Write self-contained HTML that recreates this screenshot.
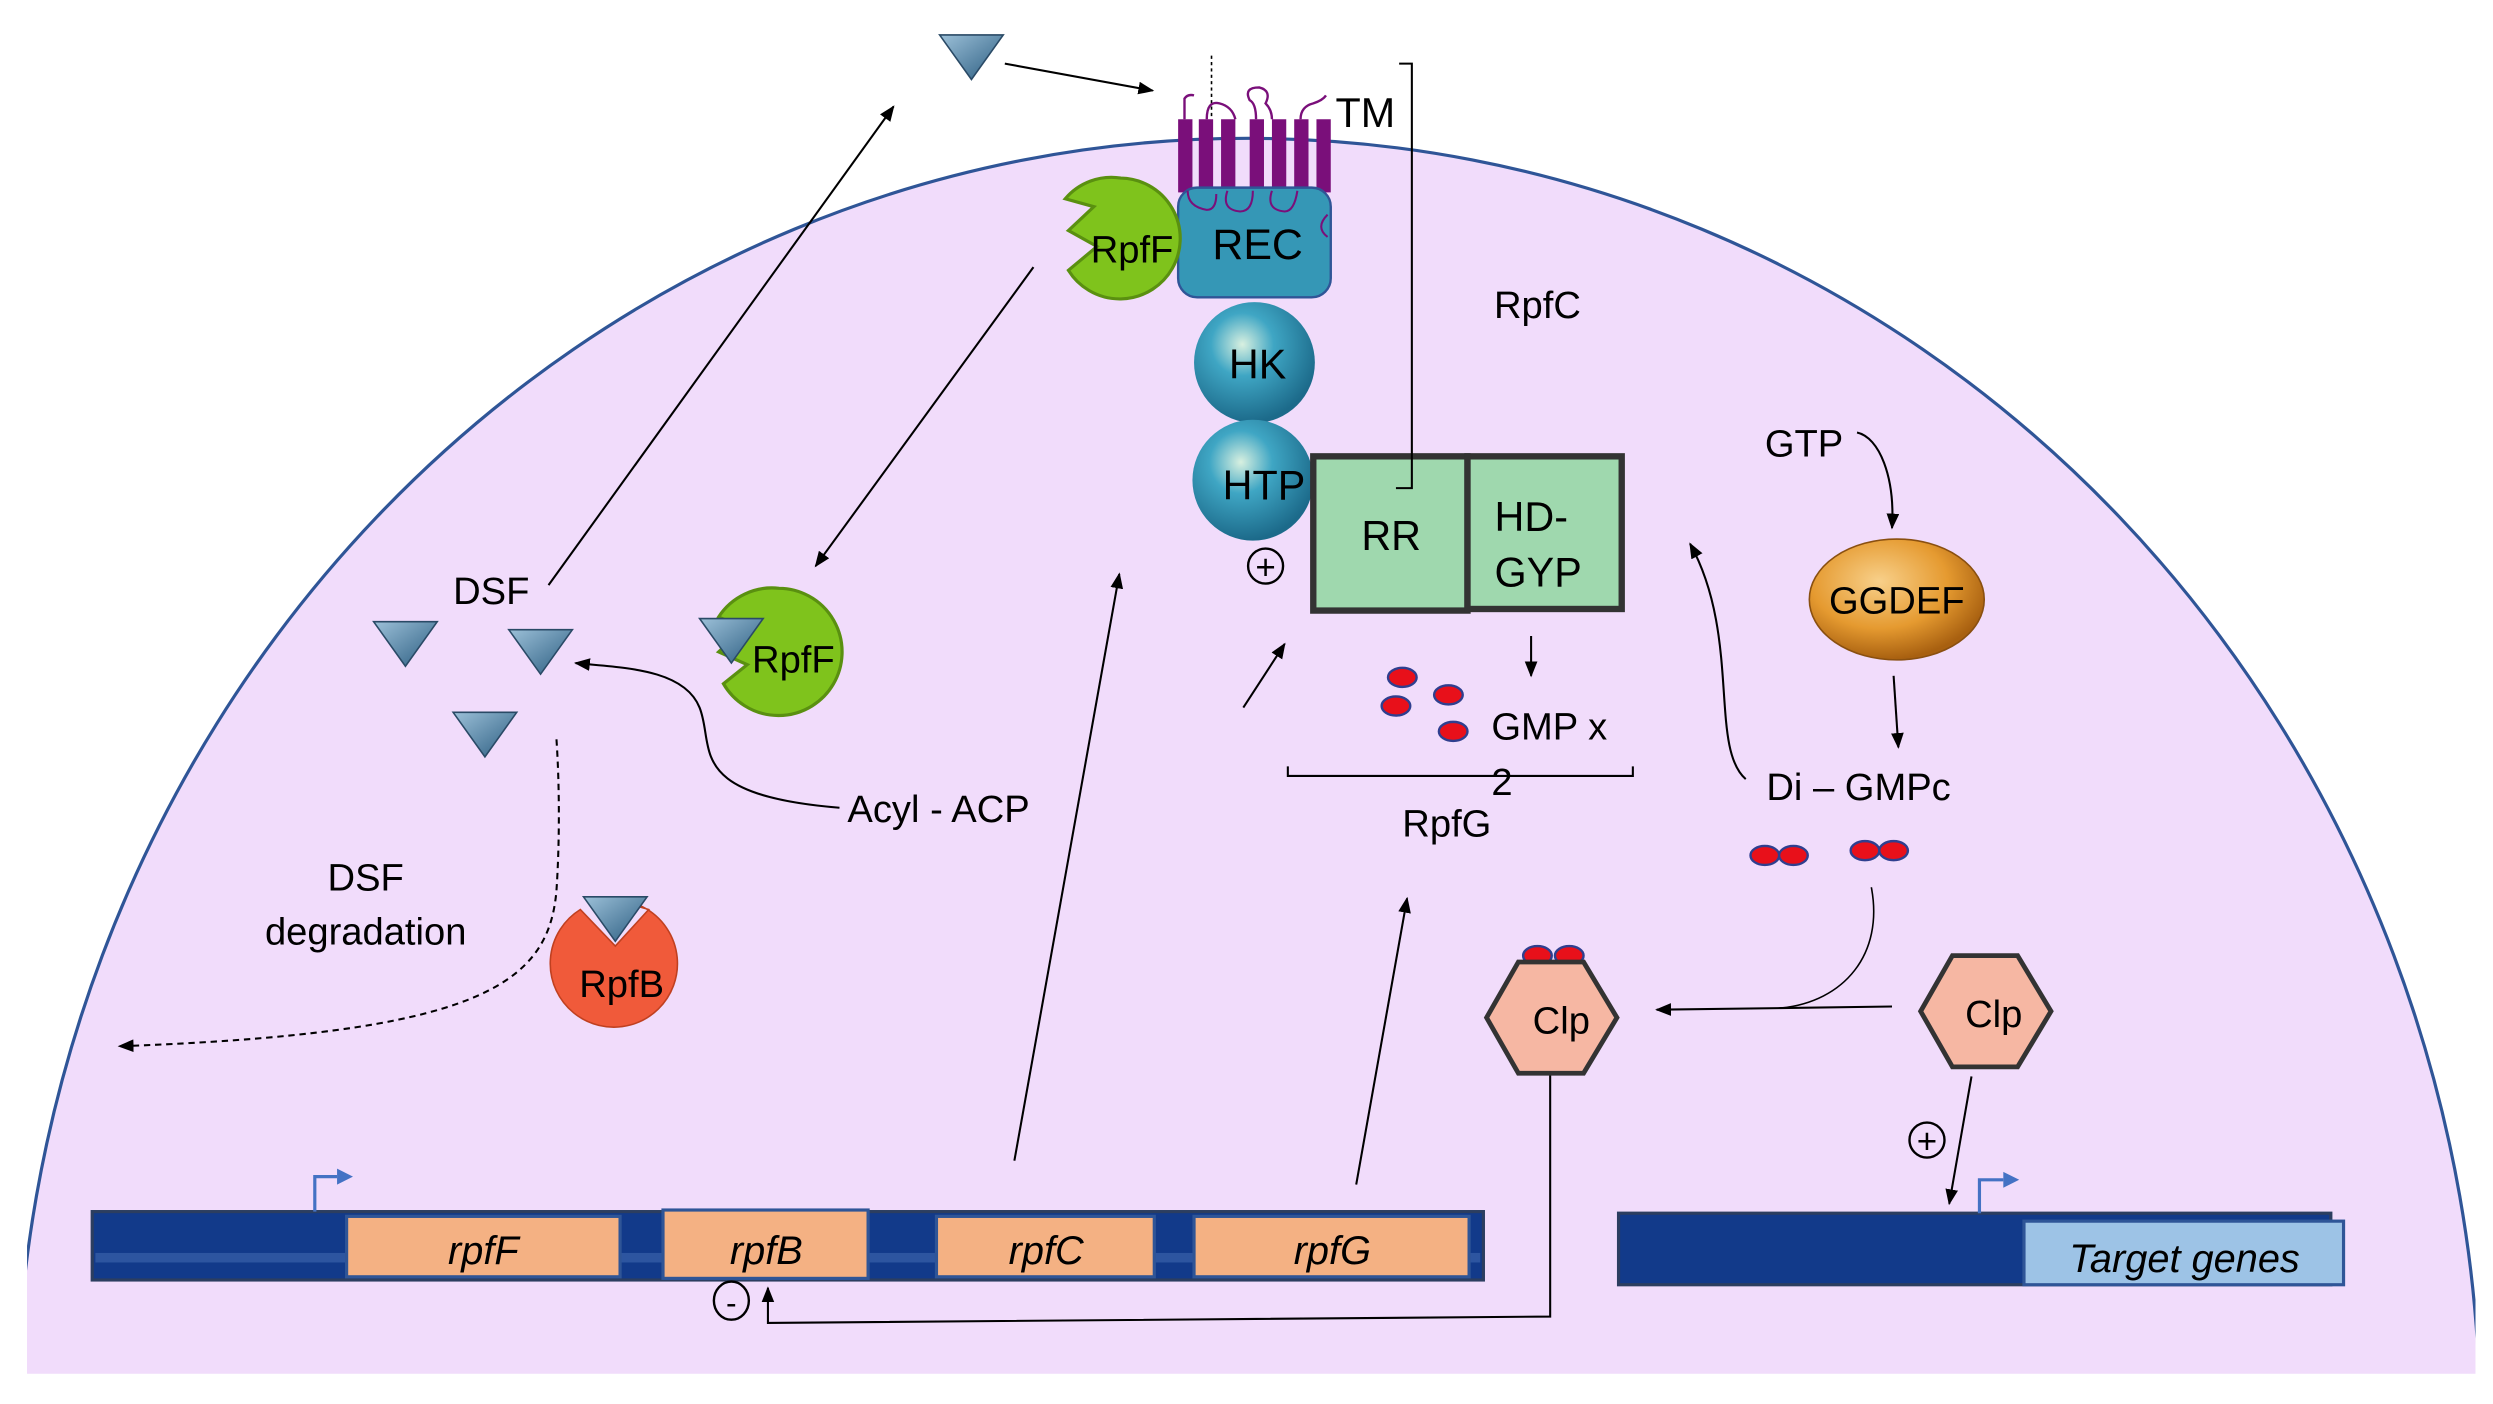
<!DOCTYPE html>
<html><head><meta charset="utf-8"><style>
html,body{margin:0;padding:0;background:#fff;width:2493px;height:1404px;overflow:hidden}
svg{display:block}
text{font-family:"Liberation Sans",Arial,sans-serif;fill:#000}
</style></head><body>
<svg width="2493" height="1404" viewBox="0 0 1568 883" preserveAspectRatio="none" xmlns="http://www.w3.org/2000/svg">
<defs>
<clipPath id="cc"><rect x="17" y="0" width="1540" height="864"/></clipPath>
<radialGradient id="ball" cx="40%" cy="35%" r="65%"><stop offset="0" stop-color="#d8f0e0"/><stop offset="0.4" stop-color="#3fa6c4"/><stop offset="1" stop-color="#1c6a8a"/></radialGradient>
<radialGradient id="gg" cx="40%" cy="35%" r="65%"><stop offset="0" stop-color="#f8d08a"/><stop offset="0.6" stop-color="#e59a30"/><stop offset="1" stop-color="#a86010"/></radialGradient>
<linearGradient id="tri" x1="0" y1="0" x2="1" y2="1"><stop offset="0" stop-color="#9cc0d8"/><stop offset="1" stop-color="#2a5c80"/></linearGradient>
<marker id="ar" markerWidth="10" markerHeight="8" refX="9" refY="4" orient="auto" markerUnits="userSpaceOnUse"><path d="M0,0 L10,4 L0,8 z" fill="#000"/></marker>
<g id="dsf"><path d="M-20,-14 L20,-14 L0,14 z" fill="url(#tri)" stroke="#2a4a66" stroke-width="1"/></g>
</defs>
<g clip-path="url(#cc)">
<ellipse cx="785" cy="900" rx="775" ry="813" fill="#f1dcfb" stroke="#2f5597" stroke-width="2"/>
</g>
<rect x="58" y="762" width="875" height="43" fill="#123a8a" stroke="#2c3e60" stroke-width="2"/>
<rect x="60" y="788" width="871" height="6" fill="#2d55a0"/>
<g stroke="#2f5597" stroke-width="2" fill="#f4b183">
<rect x="218" y="765" width="172" height="38"/>
<rect x="417" y="761" width="129" height="43"/>
<rect x="589" y="765" width="137" height="38"/>
<rect x="751" y="765" width="173" height="38"/>
</g>
<g font-size="25" font-style="italic" text-anchor="middle">
<text x="304" y="795">rpfF</text><text x="482" y="795">rpfB</text><text x="658" y="795">rpfC</text><text x="838" y="795">rpfG</text>
</g>
<path d="M198,762 V740 H212" fill="none" stroke="#4472c4" stroke-width="2"/><path d="M212,735 L222,740 L212,745z" fill="#4472c4"/>
<rect x="1018" y="763" width="448" height="45" fill="#123a8a" stroke="#2c3e60" stroke-width="2"/>
<rect x="1273" y="768" width="201" height="40" fill="#9dc3e6" stroke="#2f5597" stroke-width="2"/>
<text x="1374" y="800" font-size="25" font-style="italic" text-anchor="middle">Target genes</text>
<path d="M1245,763 V742 H1260" fill="none" stroke="#4472c4" stroke-width="2"/><path d="M1260,737 L1270,742 L1260,747z" fill="#4472c4"/>
<line x1="762" y1="35" x2="762" y2="75" stroke="#000" stroke-dasharray="2,2" stroke-width="1"/>
<g fill="#7a0f7a">
<rect x="741" y="75" width="9" height="46"/><rect x="754" y="75" width="9" height="46"/><rect x="768" y="75" width="9" height="46"/><rect x="786" y="75" width="9" height="46"/><rect x="800" y="75" width="9" height="46"/><rect x="814" y="75" width="9" height="46"/><rect x="828" y="75" width="9" height="46"/>
</g>
<path d="M745,75 V62 q2,-3 6,-2 M759,75 q0,-12 8,-10 q8,2 10,10 M790,75 q0,-10 -4,-12 q-4,-8 6,-8 q8,2 4,10 q4,4 4,10 M818,75 q0,-8 8,-10 q6,-2 8,-5" fill="none" stroke="#7a0f7a" stroke-width="1.5"/>
<text x="840" y="80" font-size="26">TM</text>
<rect x="741" y="118" width="96" height="69" rx="12" fill="#3597b6" stroke="#2f5597" stroke-width="1.5"/>
<path d="M747,120 q0,10 12,12 q6,0 6,-10 M772,120 q-4,12 8,13 q8,0 8,-13 M800,120 q-4,12 8,13 q6,0 8,-13 M835,135 q-8,8 0,14" fill="none" stroke="#7a0f7a" stroke-width="1.3"/>
<text x="791" y="163" font-size="27" text-anchor="middle">REC</text>
<circle cx="789" cy="228" r="38" fill="url(#ball)"/>
<text x="791" y="238" font-size="26" text-anchor="middle">HK</text>
<circle cx="788" cy="302" r="38" fill="url(#ball)"/>
<text x="795" y="314" font-size="26" text-anchor="middle">HTP</text>
<circle cx="796" cy="356" r="11" fill="none" stroke="#000" stroke-width="1.5"/><text x="796" y="364" font-size="22" text-anchor="middle">+</text>
<rect x="826" y="287" width="97" height="97" fill="#9fd8ae" stroke="#333" stroke-width="4"/>
<rect x="923" y="287" width="97" height="96" fill="#9fd8ae" stroke="#333" stroke-width="4"/>
<text x="875" y="346" font-size="26" text-anchor="middle">RR</text>
<text x="940" y="334" font-size="26">HD-</text><text x="940" y="369" font-size="26">GYP</text>
<path d="M880,40 H888 V307 H878" fill="none" stroke="#000" stroke-width="1.3"/>
<text x="967" y="200" font-size="24" text-anchor="middle">RpfC</text>
<path d="M705,112 A38,38 0 1 1 672,170 L690,155 L672,145 L688,130 L670,125 A38,38 0 0 1 705,112z" fill="#7fc31c" stroke="#5a9010" stroke-width="2"/>
<text x="712" y="165" font-size="24" text-anchor="middle">RpfF</text>
<path d="M490,370 A40,40 0 1 1 455,430 L470,418 L452,410 L468,395 L452,388 A40,40 0 0 1 490,370z" fill="#7fc31c" stroke="#5a9010" stroke-width="2"/>
<use href="#dsf" x="460" y="403"/>
<text x="499" y="423" font-size="24" text-anchor="middle">RpfF</text>
<path d="M387,566 A40,40 0 1 1 365,572 L387,595 L408,572z" fill="#f05a3a" stroke="#c04020" stroke-width="1"/>
<use href="#dsf" x="387" y="578"/>
<text x="391" y="627" font-size="24" text-anchor="middle">RpfB</text>
<use href="#dsf" x="611" y="36"/>
<use href="#dsf" x="255" y="405"/>
<use href="#dsf" x="340" y="410"/>
<use href="#dsf" x="305" y="462"/>
<text x="309" y="380" font-size="24" text-anchor="middle">DSF</text>
<text x="230" y="560" font-size="24" text-anchor="middle">DSF</text>
<text x="230" y="594" font-size="24" text-anchor="middle">degradation</text>
<text x="533" y="517" font-size="24">Acyl - ACP</text>
<g fill="none" stroke="#000" stroke-width="1.3" marker-end="url(#ar)">
<line x1="632" y1="40" x2="725" y2="57"/>
<line x1="345" y1="368" x2="562" y2="67"/>
<line x1="650" y1="168" x2="513" y2="356"/>
<path d="M528,508 C430,500 450,470 440,445 C430,420 390,420 362,417"/>
<path d="M350,465 C352,495 352,530 350,560 C345,620 300,650 75,658" stroke-dasharray="4,3"/>
<line x1="638" y1="730" x2="704" y2="361"/>
<line x1="782" y1="445" x2="808" y2="405"/>
<line x1="853" y1="745" x2="885" y2="565"/>
<line x1="963" y1="400" x2="963" y2="425"/>
<path d="M1168,272 C1182,275 1192,300 1190,332"/>
<line x1="1191" y1="425" x2="1194" y2="470"/>
<path d="M1098,490 C1075,470 1095,400 1063,342"/>
<path d="M1190,633 L1120,634 L1042,635"/>
<line x1="1240" y1="677" x2="1226" y2="757"/>
<path d="M975,675 V828 L483,832 V810"/>
</g>
<path d="M1120,634 C1160,630 1185,600 1177,558" fill="none" stroke="#000" stroke-width="1"/>
<g fill="#e8101a" stroke="#2f3f8f" stroke-width="1.5">
<ellipse cx="882" cy="426" rx="9" ry="6"/><ellipse cx="878" cy="444" rx="9" ry="6"/><ellipse cx="911" cy="437" rx="9" ry="6"/><ellipse cx="914" cy="460" rx="9" ry="6"/>
<ellipse cx="1110" cy="538" rx="9" ry="6"/><ellipse cx="1128" cy="538" rx="9" ry="6"/><ellipse cx="1173" cy="535" rx="9" ry="6"/><ellipse cx="1191" cy="535" rx="9" ry="6"/>
<ellipse cx="967" cy="601" rx="9" ry="6"/><ellipse cx="987" cy="601" rx="9" ry="6"/>
</g>
<text x="938" y="465" font-size="24">GMP x</text>
<text x="938" y="500" font-size="24">2</text>
<path d="M810,482 V488 H1027 V482" fill="none" stroke="#000" stroke-width="1.3"/>
<text x="910" y="526" font-size="24" text-anchor="middle">RpfG</text>
<text x="1110" y="287" font-size="24">GTP</text>
<ellipse cx="1193" cy="377" rx="55" ry="38" fill="url(#gg)" stroke="#8a5010" stroke-width="1"/>
<text x="1193" y="386" font-size="24" text-anchor="middle">GGDEF</text>
<text x="1111" y="503" font-size="24">Di – GMPc</text>
<polygon points="955,605 996,605 1017,640 996,675 955,675 935,640" fill="#f6b7a3" stroke="#333" stroke-width="3"/>
<text x="982" y="650" font-size="24" text-anchor="middle">Clp</text>
<polygon points="1228,601 1269,601 1290,636 1269,671 1228,671 1208,636" fill="#f6b7a3" stroke="#333" stroke-width="3"/>
<text x="1254" y="646" font-size="24" text-anchor="middle">Clp</text>
<circle cx="1212" cy="717" r="11" fill="none" stroke="#000" stroke-width="1.5"/><text x="1212" y="725" font-size="22" text-anchor="middle">+</text>
<ellipse cx="460" cy="818" rx="11" ry="12" fill="none" stroke="#000" stroke-width="1.5"/><text x="460" y="826" font-size="20" text-anchor="middle">-</text>
</svg>
</body></html>
